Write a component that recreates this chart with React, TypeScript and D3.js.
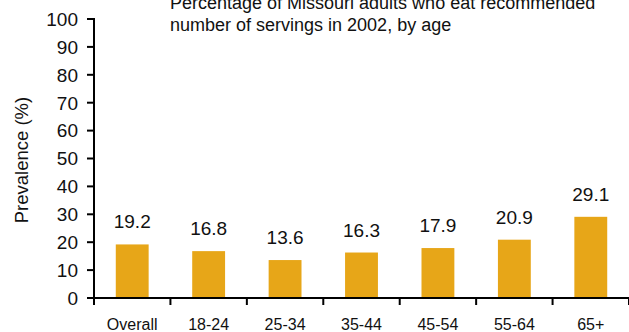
import React from "react";
import * as d3 from "d3";

const categories = ["Overall", "18-24", "25-34", "35-44", "45-54", "55-64", "65+"];
const values = [19.2, 16.8, 13.6, 16.3, 17.9, 20.9, 29.1];
const yTicks = [0, 10, 20, 30, 40, 50, 60, 70, 80, 90, 100];
const titleLines = [
  "Percentage of Missouri adults who eat recommended",
  "number of servings in 2002, by age",
];
const yLabel = "Prevalence (%)";

const W = 629;
const H = 332;
const FONT = "Arial, 'Liberation Sans', Helvetica, sans-serif";
const BAR = "#E7A618";

export default function App() {
  const left = 94;
  const right = 629;
  const top = 19;
  const bottom = 298;

  const x = d3
    .scaleBand<string>()
    .domain(categories)
    .range([left, right])
    .paddingInner(0.57)
    .paddingOuter(0.285);
  const y = d3.scaleLinear().domain([0, 100]).range([bottom, top]);
  const step = x.step();
  const boundaries = d3.range(categories.length + 1).map((i) => left + i * step);

  return (
    <svg
      width={W}
      height={H}
      style={{ position: "absolute", left: 0, top: 0, background: "#fff" }}
      fontFamily={FONT}
    >
      {/* title */}
      {titleLines.map((t, i) => (
        <text key={i} x={170} y={9 + i * 22} fontSize={18} fill="#111">
          {t}
        </text>
      ))}

      {/* y axis label */}
      <text
        transform={`translate(28,160) rotate(-90)`}
        textAnchor="middle"
        fontSize={18.5}
        fill="#111"
      >
        {yLabel}
      </text>

      {/* bars */}
      {categories.map((c, i) => (
        <rect
          key={c}
          x={x(c)!}
          y={y(values[i])}
          width={x.bandwidth()}
          height={y(0) - y(values[i])}
          fill={BAR}
        />
      ))}

      {/* value labels */}
      {categories.map((c, i) => (
        <text
          key={c}
          x={x(c)! + x.bandwidth() / 2}
          y={y(values[i]) - 16}
          textAnchor="middle"
          fontSize={19}
          fill="#111"
        >
          {values[i].toFixed(1)}
        </text>
      ))}

      {/* y axis */}
      <line x1={left} x2={left} y1={y(100) - 1} y2={bottom + 1} stroke="#000" strokeWidth={2} />
      {yTicks.map((t) => (
        <g key={t}>
          <line x1={left - 7} x2={left} y1={y(t)} y2={y(t)} stroke="#000" strokeWidth={2} />
          <text
            x={left - 16}
            y={y(t)}
            dy="0.36em"
            textAnchor="end"
            fontSize={19}
            fill="#111"
          >
            {t}
          </text>
        </g>
      ))}

      {/* x axis */}
      <line x1={left - 1} x2={W} y1={bottom} y2={bottom} stroke="#000" strokeWidth={2} />
      {boundaries.map((bx, i) => (
        <line key={i} x1={bx} x2={bx} y1={bottom} y2={bottom + 7} stroke="#000" strokeWidth={2} />
      ))}
      {categories.map((c) => (
        <text
          key={c}
          x={x(c)! + x.bandwidth() / 2}
          y={330}
          textAnchor="middle"
          fontSize={16}
          fill="#111"
        >
          {c}
        </text>
      ))}
    </svg>
  );
}
